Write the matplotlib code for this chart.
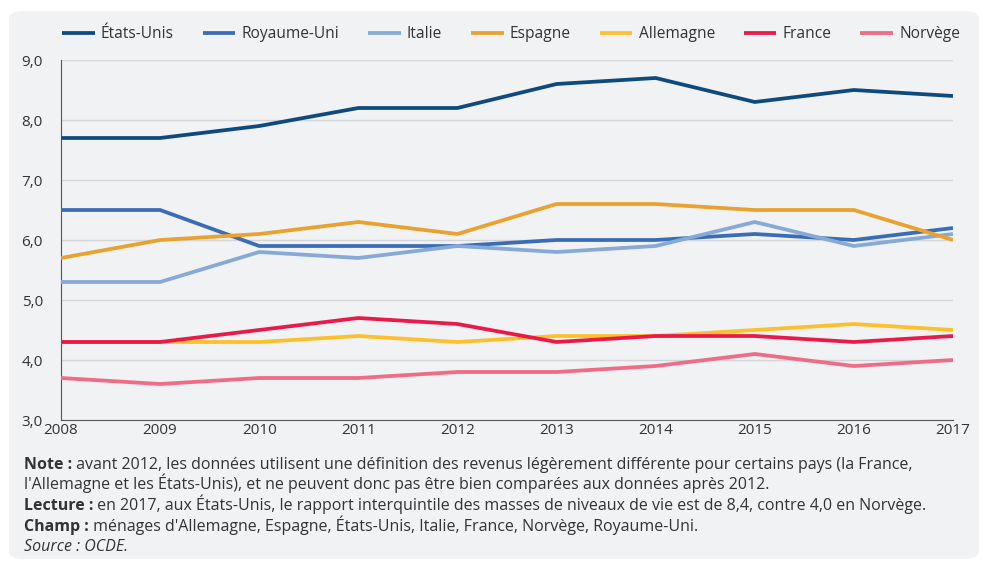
import matplotlib.pyplot as plt
from matplotlib.patches import FancyBboxPatch

years = [2008, 2009, 2010, 2011, 2012, 2013, 2014, 2015, 2016, 2017]
pays = ['États-Unis', 'Royaume-Uni', 'Italie', 'Espagne', 'Allemagne', 'France', 'Norvège']
etats_unis = [7.7, 7.7, 7.9, 8.2, 8.2, 8.6, 8.7, 8.3, 8.5, 8.4]
royaume_uni = [6.5, 6.5, 5.9, 5.9, 5.9, 6.0, 6.0, 6.1, 6.0, 6.2]
italie = [5.3, 5.3, 5.8, 5.7, 5.9, 5.8, 5.9, 6.3, 5.9, 6.1]
espagne = [5.7, 6.0, 6.1, 6.3, 6.1, 6.6, 6.6, 6.5, 6.5, 6.0]
allemagne = [4.3, 4.3, 4.3, 4.4, 4.3, 4.4, 4.4, 4.5, 4.6, 4.5]
france = [4.3, 4.3, 4.5, 4.7, 4.6, 4.3, 4.4, 4.4, 4.3, 4.4]
norvege = [3.7, 3.6, 3.7, 3.7, 3.8, 3.8, 3.9, 4.1, 3.9, 4.0]
series = [etats_unis, royaume_uni, italie, espagne, allemagne, france, norvege]
colors = ['#0f4a7f', '#3a6db5', '#86a9d8', '#e9a12f', '#fdc02c', '#ea1a48', '#ef6b86']
yticks = [3, 4, 5, 6, 7, 8, 9]

plt.rcParams['font.family'] = ['Open Sans', 'DejaVu Sans']
txt_col = '#333333'

fig = plt.figure(figsize=(9.83, 5.65), dpi=100)
# fond gris arrondi
panel = FancyBboxPatch((9/983, 6/565), 970/983, 548/565,
                       boxstyle='round,pad=0,rounding_size=0.015',
                       transform=fig.transFigure, facecolor='#f1f2f4',
                       edgecolor='none', zorder=-10)
fig.patches.append(panel)

ax = fig.add_axes([61/983, 1-420/565, (953-61)/983, 360/565])
ax.set_facecolor('none')
for s, c, name in zip(series, colors, pays):
    ax.plot(years, s, color=c, lw=2.7, label=name, solid_capstyle='butt', zorder=3)

ax.set_xlim(2008, 2017)
ax.set_ylim(3, 9)
ax.set_yticks(yticks)
ax.set_yticklabels([f'{v:.1f}'.replace('.', ',') for v in yticks])
ax.set_xticks(years)
ax.grid(axis='y', color='#d4d5d8', lw=1, zorder=1)
ax.spines['top'].set_visible(False)
ax.spines['right'].set_visible(False)
ax.spines['left'].set_color('#555555')
ax.spines['bottom'].set_color('#555555')
ax.tick_params(length=0, labelsize=11, colors=txt_col, pad=2)
ax.tick_params(axis='y', pad=13)

fig.legend(loc='center left', bbox_to_anchor=(62/983, 1-34/565), ncol=7,
           frameon=False, fontsize=11.2, handlelength=2.1, handletextpad=0.4,
           columnspacing=1.85, borderpad=0, borderaxespad=0, labelcolor=txt_col)

lines = [
    ('Note :', ' avant 2012, les données utilisent une définition des revenus légèrement différente pour certains pays (la France,'),
    ('', "l'Allemagne et les États-Unis), et ne peuvent donc pas être bien comparées aux données après 2012."),
    ('Lecture :', ' en 2017, aux États-Unis, le rapport interquintile des masses de niveaux de vie est de 8,4, contre 4,0 en Norvège.'),
    ('Champ :', " ménages d'Allemagne, Espagne, États-Unis, Italie, France, Norvège, Royaume-Uni."),
]
ys = [469, 489, 510, 531]
renderer = fig.canvas.get_renderer()
for (b, rest), y in zip(lines, ys):
    x = 24 / 983
    if b:
        t = fig.text(x, 1 - y/565, b, fontsize=11.5, fontweight='bold',
                     color=txt_col, va='baseline')
        bb = t.get_window_extent(renderer=renderer)
        x = bb.x1 / fig.bbox.width
    fig.text(x, 1 - y/565, rest, fontsize=11.5, color=txt_col, va='baseline')
fig.text(24/983, 1 - 551/565, 'Source : OCDE.', fontsize=11.5, style='italic',
         color=txt_col, va='baseline')

fig.savefig('out.png', dpi=100)
